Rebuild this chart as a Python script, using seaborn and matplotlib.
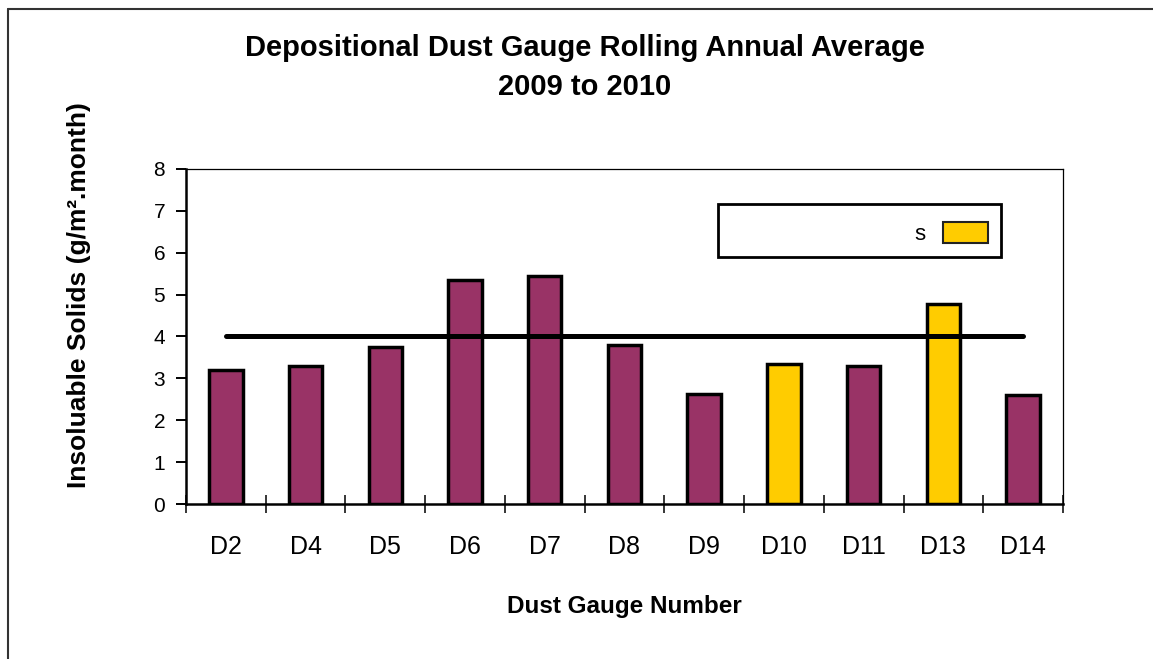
import matplotlib
matplotlib.use("Agg")
import matplotlib.pyplot as plt
import seaborn as sns
import pandas as pd
from matplotlib.patches import Patch, Rectangle
from matplotlib.lines import Line2D

# Rolling annual average per gauge (g/m2.month)
gauges = ['D2', 'D4', 'D5', 'D6', 'D7', 'D8', 'D9', 'D10', 'D11', 'D13', 'D14']
insoluble = [3.2, 3.3, 3.75, 5.35, 5.45, 3.8, 2.62, 3.35, 3.3, 4.78, 2.6]
highlighted = ['D10', 'D13']
guideline = 4.0
legend_labels = ['s']

PLUM = '#993366'
GOLD = '#FFCC00'

sns.set_style('white')
plt.rcParams['font.family'] = ['Liberation Sans', 'DejaVu Sans']
plt.rcParams['text.color'] = 'black'
plt.rcParams['axes.labelcolor'] = 'black'
plt.rcParams['xtick.color'] = 'black'
plt.rcParams['ytick.color'] = 'black'

df = pd.DataFrame({'gauge': gauges, 'value': insoluble})
df['colour'] = [GOLD if g in highlighted else PLUM for g in df['gauge']]

fig = plt.figure(figsize=(11.53, 6.59), dpi=100)
ax = fig.add_axes([0.1613, 0.2352, 0.7606, 0.5084])

sns.barplot(data=df, x='gauge', y='value', hue='gauge', palette=list(df['colour']),
            legend=False, width=0.42, edgecolor='black', linewidth=2.5,
            saturation=1, ax=ax)

# guideline from first to last gauge
ax.plot([0, len(gauges) - 1], [guideline, guideline], color='black', lw=3.6,
        solid_capstyle='round', zorder=5)

ax.set_ylim(0, 8)
ax.set_xlim(-0.5, len(gauges) - 0.5)
ax.set_yticks(range(0, 9))
ax.tick_params(axis='y', labelsize=15, direction='out', length=7, width=1.4,
               left=True, pad=8)
ax.tick_params(axis='x', which='major', labelsize=18, length=0, pad=22)
ax.set_xticks([i - 0.5 for i in range(len(gauges) + 1)], minor=True)
ax.tick_params(axis='x', which='minor', direction='inout', length=13,
               width=1.1, bottom=True)

for side in ['left', 'bottom']:
    ax.spines[side].set_linewidth(1.8)
for side in ['top', 'right']:
    ax.spines[side].set_linewidth(0.9)
for s in ax.spines.values():
    s.set_color('black')

ax.set_xlabel('Dust Gauge Number', fontsize=17.5, fontweight='bold', labelpad=26)
ax.set_ylabel('Insoluable Solids (g/m\u00b2.month)', fontsize=19, fontweight='bold')
ax.yaxis.set_label_coords(-0.108, 0.624)

fig.text(0.507, 0.898, 'Depositional Dust Gauge Rolling Annual Average\n2009 to 2010',
         ha='center', va='center', fontsize=21, fontweight='bold', linespacing=1.5)

# legend frame and entry
fig.add_artist(Rectangle((0.623, 0.610), 0.245, 0.080, transform=fig.transFigure,
                         facecolor='white', edgecolor='black', lw=2, zorder=6))
leg = fig.legend(handles=[Patch(facecolor=GOLD, edgecolor='#222222', lw=1.5)],
                 labels=legend_labels, loc='center right',
                 bbox_to_anchor=(0.874, 0.646), frameon=False, markerfirst=False,
                 fontsize=16, handlelength=2.0, handleheight=1.1, handletextpad=0.8)
leg.set_zorder(7)

# outer chart frame (top and left edges visible)
fig.add_artist(Line2D([0.007, 1.0], [0.987, 0.987], transform=fig.transFigure,
                      color='#333333', lw=1.5))
fig.add_artist(Line2D([0.007, 0.007], [0.0, 0.987], transform=fig.transFigure,
                      color='#333333', lw=1.5))

fig.savefig('out.png', dpi=100)
